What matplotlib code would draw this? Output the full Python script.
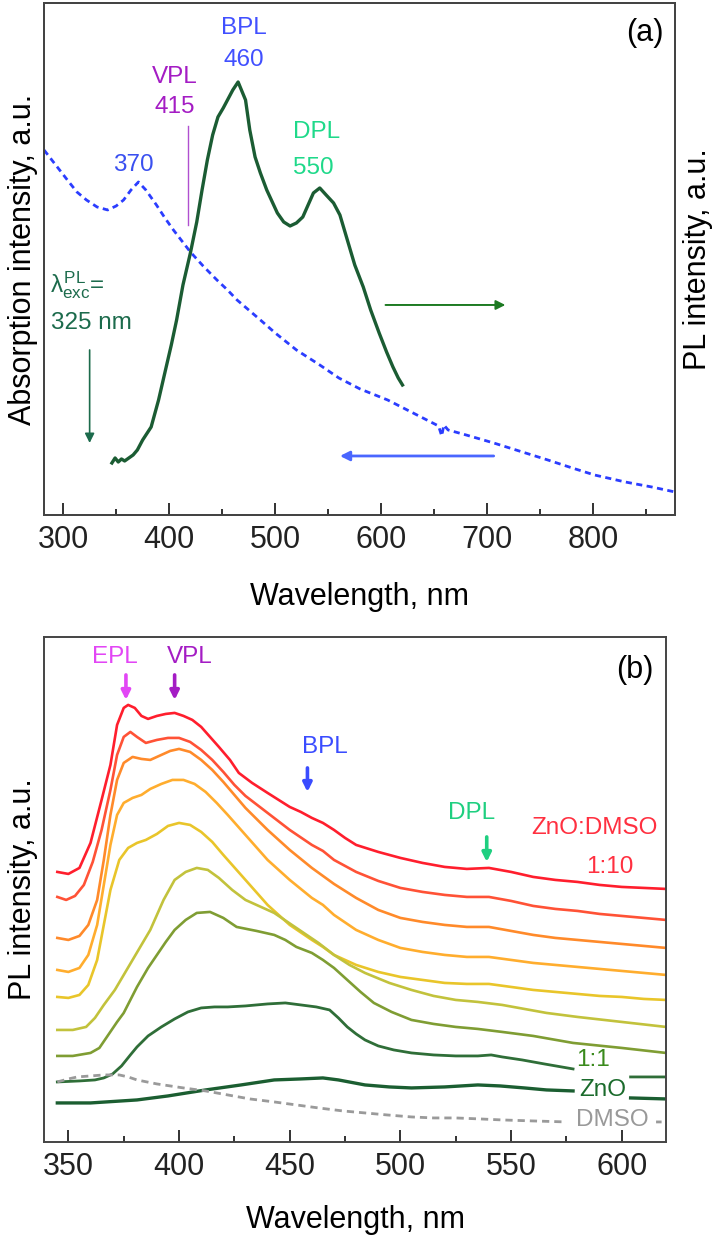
import numpy as np
import matplotlib
matplotlib.use("Agg")
import matplotlib.pyplot as plt
from matplotlib.ticker import MultipleLocator

plt.rcParams['font.family'] = ['Liberation Sans', 'DejaVu Sans']
plt.rcParams['mathtext.fontset'] = 'custom'
plt.rcParams['mathtext.rm'] = 'Liberation Sans'
plt.rcParams['mathtext.it'] = 'Liberation Sans'

# ---------------- panel (a) data ----------------
abs_nm = [282, 293, 304, 313, 322, 332, 342, 350, 357, 364, 371, 378, 388, 396, 404,
          412, 420, 432, 445, 455, 464, 486, 500, 520, 542, 560, 580, 606, 630, 654,
          657, 659, 663, 680, 706, 730, 757, 780, 801, 830, 855, 877]
abs_val = [365, 350, 335, 323, 315, 308, 305, 309, 315, 325, 333, 325, 310, 297, 285,
           274, 263, 249, 235, 225, 215, 195, 182, 165, 150, 137, 126, 115, 102, 89,
           79, 90, 85, 80, 72, 64, 55, 47, 40, 33, 28, 23]

pl_nm = [346, 349, 352, 355, 358, 362, 366, 370, 375, 383, 390, 395, 402, 407, 413,
         420, 426, 431, 436, 441, 446, 451, 455, 460, 465, 472, 476, 481, 486, 492,
         502, 508, 514, 520, 526, 531, 536, 542, 548, 555, 561, 568, 575, 583, 590,
         598, 605, 611, 616, 620]
pl_val = [52, 57, 53, 56, 54, 57, 60, 65, 75, 88, 115, 138, 170, 195, 230,
          262, 293, 325, 355, 380, 398, 407, 415, 425, 433, 415, 385, 358, 342, 325,
          302, 293, 289, 292, 298, 310, 322, 327, 320, 312, 300, 275, 250, 228, 205,
          182, 163, 148, 137, 130]

# ---------------- panel (b) data ----------------
red_nm = [345, 350, 355, 360, 365, 369, 372, 375, 377, 380, 383, 386, 390, 394, 398, 402,
          406, 410, 414, 418, 423, 427, 433, 440, 445, 450, 455, 460, 465, 470, 475, 480,
          490, 500, 510, 520, 530, 540, 550, 560, 570, 580, 590, 600, 610, 620]
red_val = [270, 268, 274, 299, 342, 377, 417, 434, 437, 434, 426, 423, 426, 428, 429, 426,
           422, 415, 405, 395, 382, 369, 359, 349, 342, 335, 330, 324, 319, 312, 304, 297,
           290, 284, 279, 275, 273, 274, 270, 265, 262, 260, 257, 255, 254, 253]

ored_nm = [345, 349, 353, 357, 361, 365, 369, 372, 375, 378, 381, 385, 390, 395, 400, 405,
           410, 415, 420, 425, 430, 440, 450, 460, 465, 470, 480, 490, 500, 510, 520, 530,
           540, 550, 560, 570, 580, 590, 600, 610, 620]
ored_val = [245, 242, 246, 257, 280, 312, 352, 387, 405, 410, 405, 399, 402, 404, 404, 400,
            392, 382, 370, 357, 346, 329, 312, 297, 291, 282, 270, 261, 254, 250, 247, 245,
            245, 241, 236, 233, 231, 228, 226, 224, 222]

orng_nm = [345, 350, 355, 359, 363, 366, 369, 372, 375, 379, 383, 387, 391, 396, 400, 405,
           410, 415, 420, 425, 430, 440, 450, 460, 465, 470, 480, 490, 500, 510, 520, 530,
           540, 550, 560, 570, 580, 590, 600, 610, 620]
orng_val = [204, 202, 206, 217, 242, 282, 327, 362, 379, 385, 383, 382, 386, 391, 393, 390,
            382, 372, 360, 347, 334, 312, 292, 274, 266, 258, 244, 232, 224, 220, 217, 215,
            215, 211, 207, 204, 202, 200, 198, 196, 194]

lor_nm = [345, 350, 355, 359, 363, 366, 369, 372, 375, 379, 383, 387, 392, 397, 402, 407,
          412, 417, 422, 430, 440, 450, 460, 465, 470, 480, 490, 500, 510, 520, 530, 540,
          550, 560, 570, 580, 590, 600, 610, 620]
lor_val = [172, 170, 174, 187, 217, 257, 297, 327, 339, 344, 347, 353, 358, 362, 362, 358,
           350, 339, 327, 307, 282, 262, 244, 237, 227, 212, 202, 194, 190, 187, 185, 185,
           182, 179, 177, 175, 173, 171, 169, 167]

yel_nm = [345, 350, 355, 359, 363, 366, 369, 373, 377, 381, 385, 390, 395, 400, 405, 410,
          415, 420, 430, 440, 450, 460, 465, 470, 480, 490, 500, 510, 520, 530, 540, 550,
          560, 570, 580, 590, 600, 610, 620]
yel_val = [145, 144, 147, 157, 182, 217, 252, 282, 294, 299, 302, 308, 316, 319, 317, 310,
           300, 287, 262, 237, 217, 202, 195, 187, 177, 170, 165, 162, 159, 158, 158, 155,
           152, 150, 148, 146, 145, 143, 142]

ygr_nm = [345, 352, 358, 362, 366, 371, 375, 379, 383, 387, 393, 398, 403, 408, 413, 418,
          424, 430, 443, 453, 463, 470, 477, 484, 495, 505, 515, 525, 535, 546, 556, 566,
          580, 600, 620]
ygr_val = [112, 112, 115, 124, 137, 152, 167, 182, 197, 212, 242, 262, 270, 274, 272, 264,
           252, 242, 229, 214, 199, 187, 177, 169, 159, 152, 146, 142, 140, 137, 133, 129,
           125, 120, 115]

olv_nm = [345, 352, 360, 364, 368, 372, 375, 378, 381, 386, 390, 394, 398, 403, 408, 414,
          420, 426, 435, 443, 448, 453, 460, 465, 470, 476, 482, 488, 496, 505, 515, 525,
          535, 546, 560, 578, 600, 620]
olv_val = [86, 86, 89, 94, 107, 120, 129, 142, 155, 174, 187, 200, 212, 222, 229, 230,
           224, 215, 211, 207, 202, 195, 189, 182, 174, 162, 150, 139, 130, 122, 118, 115,
           113, 110, 106, 99, 94, 89]

r11_nm = [345, 355, 362, 366, 370, 374, 378, 381, 386, 392, 398, 404, 410, 416, 422, 430,
          440, 448, 455, 462, 468, 472, 476, 480, 484, 490, 497, 505, 515, 525, 535, 541,
          546, 555, 565, 578, np.nan, 604, 612, 620]
r11_val = [60, 61, 62, 64, 68, 76, 87, 95, 106, 115, 123, 130, 134, 135, 135, 136,
           138, 139, 137, 135, 132, 124, 115, 108, 102, 96, 92, 89, 87, 86, 86, 87,
           85, 82, 78, 73, np.nan, 65, 65, 65]

zno_nm = [345, 360, 381, 395, 412, 428, 443, 455, 465, 472, 484, 495, 505, 520, 535, 545,
          556, 566, 578, np.nan, 604, 620]
zno_val = [39, 39, 42, 46, 52, 57, 62, 63, 64, 62, 57, 55, 54, 55, 57, 56,
           54, 52, 51, np.nan, 44, 43]

dmso_nm = [345, 350, 354, 360, 366, 373, 377, 381, 390, 402, 412, 422, 432, 443, 453, 463,
           474, 484, 494, 505, 515, 525, 536, 546, 560, 575, np.nan, 615.5, 618]
dmso_val = [60, 63, 65, 66, 67, 67, 65, 62, 58, 54, 51, 47, 43, 40, 37, 34,
            31, 29, 27, 25, 24, 24, 23, 22, 21, 20, np.nan, 20, 20]

series_b = [
    (red_nm, red_val, '#ff1e2d', 1.9),
    (ored_nm, ored_val, '#ff5236', 1.9),
    (orng_nm, orng_val, '#ff8a2a', 1.9),
    (lor_nm, lor_val, '#ffad2e', 1.9),
    (yel_nm, yel_val, '#e9c52a', 1.9),
    (ygr_nm, ygr_val, '#c2c23c', 1.9),
    (olv_nm, olv_val, '#7f9d33', 1.9),
    (r11_nm, r11_val, '#2f6e38', 2.0),
    (zno_nm, zno_val, '#1b5e31', 2.4),
]

fig = plt.figure(figsize=(7.16, 12.43), dpi=100)

def style_axis(ax):
    for s in ax.spines.values():
        s.set_color('#444444')
        s.set_linewidth(1.4)
    ax.tick_params(axis='x', which='both', direction='in', labelsize=22, pad=7,
                   colors='#222222', width=1.3)
    ax.tick_params(axis='x', which='major', length=9)
    ax.tick_params(axis='x', which='minor', length=4.5)
    ax.set_yticks([])

# ---------------- panel (a) ----------------
ax1 = fig.add_axes([0.0615, 0.5857, 0.8813, 0.4119])
ax2 = ax1.twinx()
ax1.plot(abs_nm, abs_val, color='#2b3dff', lw=2.0, ls=(0, (2.2, 1.6)))
ax2.plot(pl_nm, pl_val, color='#1b5c33', lw=2.4)
ax1.set_xlim(282, 877)
ax1.set_ylim(0, 512)
ax2.set_ylim(0, 512)
ax1.xaxis.set_major_locator(MultipleLocator(100))
ax1.xaxis.set_minor_locator(MultipleLocator(50))
style_axis(ax1)
style_axis(ax2)

ax1.text(366, 350, '370', color='#3a50f0', fontsize=17.5, ha='center', va='center')
ax1.text(470, 487, 'BPL', color='#4150ff', fontsize=17.5, ha='center', va='center')
ax1.text(470, 455, '460', color='#4150ff', fontsize=17.5, ha='center', va='center')
ax1.text(405.5, 438, 'VPL', color='#a41cc4', fontsize=17.5, ha='center', va='center')
ax1.text(405.5, 408, '415', color='#a41cc4', fontsize=17.5, ha='center', va='center')
ax1.plot([418, 418], [290, 389], color='#b050d0', lw=1.0)
ax1.text(539, 383, 'DPL', color='#1fd98a', fontsize=17.5, ha='center', va='center')
ax1.text(536, 347, '550', color='#1fd98a', fontsize=17.5, ha='center', va='center')
ax1.text(288, 230, r'$\lambda_{\rm exc}^{\rm PL}$=', color='#1c6b4c', fontsize=17.5,
         ha='left', va='center')
ax1.text(288.5, 192, '325 nm', color='#1c6b4c', fontsize=17.5, ha='left', va='center')
ax1.annotate('', xy=(325, 72), xytext=(325, 165),
             arrowprops=dict(arrowstyle='-|>', color='#1c6b4c', lw=1.2, mutation_scale=14,
                             shrinkA=0, shrinkB=0))
ax1.annotate('', xy=(717, 210), xytext=(604, 210),
             arrowprops=dict(arrowstyle='-|>', color='#1d7a22', lw=1.4, mutation_scale=14,
                             shrinkA=0, shrinkB=0))
ax1.annotate('', xy=(561, 59), xytext=(706, 59),
             arrowprops=dict(arrowstyle='-|>', color='#4a66ff', lw=2.0, mutation_scale=14,
                             shrinkA=0, shrinkB=0))
ax1.text(0.952, 0.941, '(a)', transform=ax1.transAxes, fontsize=22, ha='center', va='center')

# ---------------- panel (b) ----------------
ax3 = fig.add_axes([0.0615, 0.0813, 0.8687, 0.4063])
for nm, val, col, lw in series_b:
    ax3.plot(nm, val, color=col, lw=lw)
ax3.plot(dmso_nm, dmso_val, color='#9a9a9a', lw=2.0, ls=(0, (2.6, 1.8)))
ax3.set_xlim(339, 620)
ax3.set_ylim(0, 505)
ax3.xaxis.set_major_locator(MultipleLocator(50))
ax3.xaxis.set_minor_locator(MultipleLocator(25))
style_axis(ax3)

arrow_b = dict(arrowstyle='-|>', lw=2.6, mutation_scale=13, shrinkA=0, shrinkB=0)
ax3.text(371, 485, 'EPL', color='#e246f5', fontsize=17.5, ha='center', va='center')
ax3.annotate('', xy=(376, 442), xytext=(376, 467), arrowprops=dict(arrow_b, color='#e246f5'))
ax3.text(405, 485, 'VPL', color='#a41cc4', fontsize=17.5, ha='center', va='center')
ax3.annotate('', xy=(398, 442), xytext=(398, 467), arrowprops=dict(arrow_b, color='#a41cc4'))
ax3.text(466, 395, 'BPL', color='#3a4cff', fontsize=17.5, ha='center', va='center')
ax3.annotate('', xy=(458, 350), xytext=(458, 374), arrowprops=dict(arrow_b, color='#3a4cff'))
ax3.text(532, 329, 'DPL', color='#1fcf80', fontsize=17.5, ha='center', va='center')
ax3.annotate('', xy=(539, 280), xytext=(539, 305), arrowprops=dict(arrow_b, color='#1fcf80'))
ax3.text(587.6, 314, 'ZnO:DMSO', color='#ff3040', fontsize=17.5, ha='center', va='center')
ax3.text(594.4, 275, '1:10', color='#ff3040', fontsize=17.5, ha='center', va='center')
ax3.text(587.2, 82, '1:1', color='#3a8a1c', fontsize=17.5, ha='center', va='center')
ax3.text(591.3, 52, 'ZnO', color='#1b6b2c', fontsize=17.5, ha='center', va='center')
ax3.text(595.8, 22, 'DMSO', color='#999999', fontsize=17.5, ha='center', va='center')
ax3.text(0.950, 0.935, '(b)', transform=ax3.transAxes, fontsize=22, ha='center', va='center')

# axis titles
H = 1243.0
fig.text(360 / 716, 1 - 597 / H, 'Wavelength, nm', fontsize=22, ha='center', va='center')
fig.text(355 / 716, 1 - 1220 / H, 'Wavelength, nm', fontsize=22, ha='center', va='center')
fig.text(23 / 716, 1 - 259 / H, 'Absorption intensity, a.u.', fontsize=22, rotation=90,
         ha='center', va='center')
fig.text(698 / 716, 1 - 259 / H, 'PL intensity, a.u.', fontsize=22, rotation=90,
         ha='center', va='center')
fig.text(23 / 716, 1 - 889 / H, 'PL intensity, a.u.', fontsize=22, rotation=90,
         ha='center', va='center')

fig.savefig('out.png', dpi=100)
